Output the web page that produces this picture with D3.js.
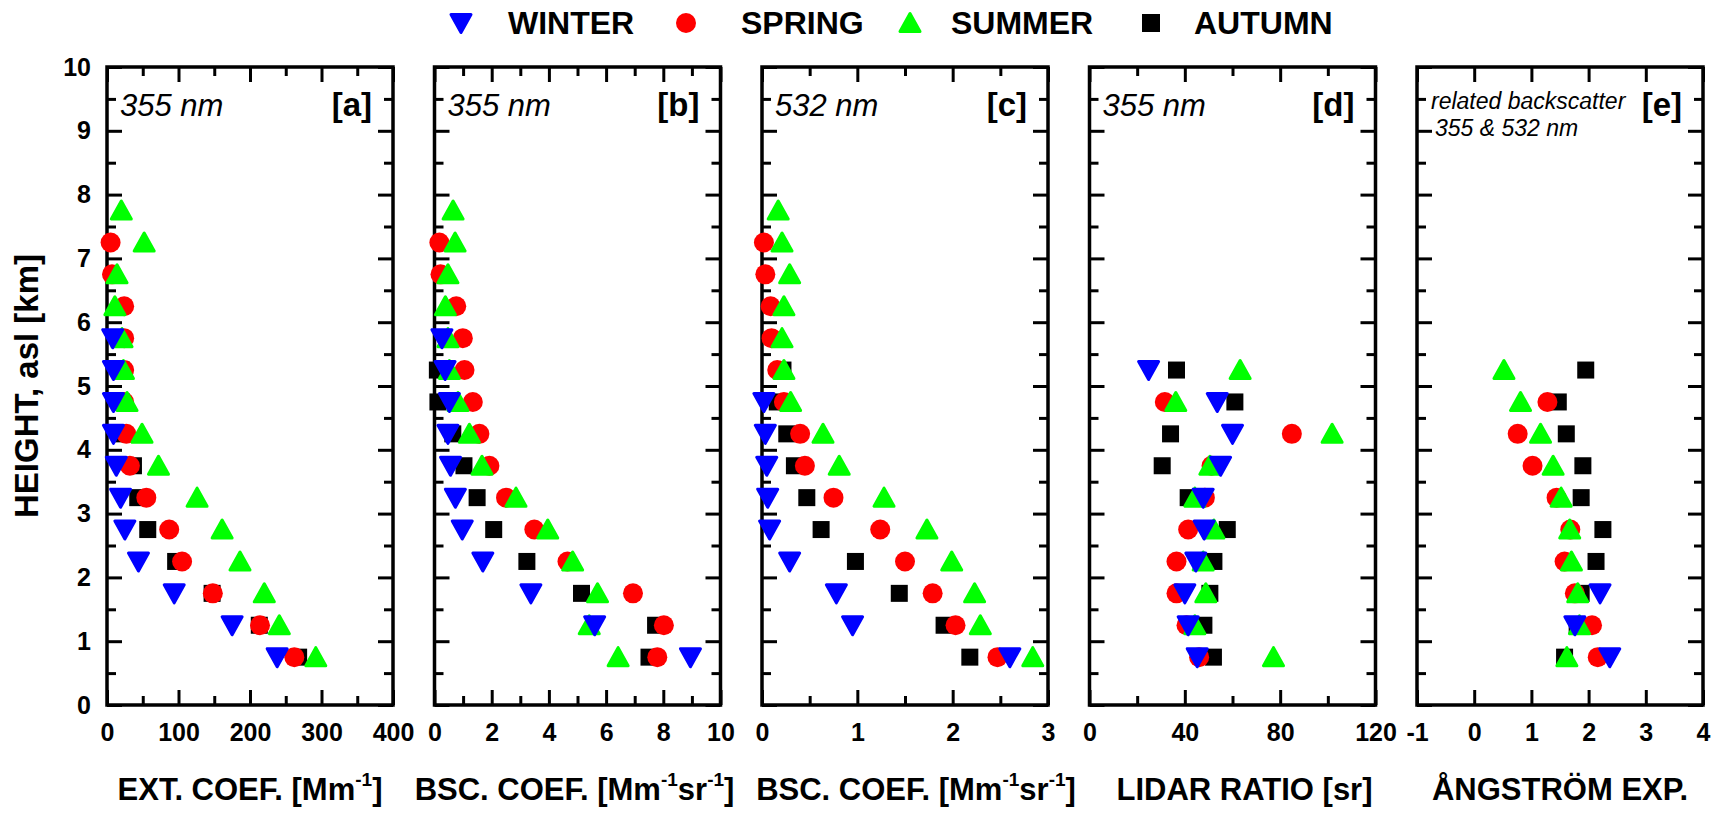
<!DOCTYPE html>
<html>
<head>
<meta charset="utf-8">
<script src="https://cdn.jsdelivr.net/npm/d3@7/dist/d3.min.js"></script>
<style>
  html, body { margin: 0; padding: 0; background: #fff; }
  svg { display: block; }
  text { font-family: "Liberation Sans", Arial, Helvetica, sans-serif; fill: #000; }
</style>
</head>
<body>
<svg id="chart" width="1721" height="815"></svg>
<script>
// Layer mid-heights (km asl)
const heights = [0.75, 1.25, 1.75, 2.25, 2.75, 3.25, 3.75, 4.25, 4.75, 5.25, 5.75, 6.25, 6.75, 7.25, 7.75];

// [a] extinction coefficient at 355 nm (Mm^-1)
const extWinter = [238, 175, 94, 44, 25, 19, 13, 9, 9, 9, 8, null, null, null, null];
const extSpring = [262, 214, 148, 105, 87, 55, 32, 27, 24, 24, 24, 24, 7, 5, null];
const extSummer = [292, 241, 220, 186, 161, 126, 72, 49, 28, 23, 21, 11, 14, 52, 20];
const extAutumn = [268, 213, 147, 96, 57, 43, 37, 20, 20, 20, null, null, null, null, null];

// [b] backscatter coefficient at 355 nm (Mm^-1 sr^-1)
const bsc355Winter = [8.95, 5.6, 3.37, 1.69, 0.97, 0.73, 0.56, 0.47, 0.52, 0.37, 0.26, null, null, null, null];
const bsc355Spring = [7.79, 8.02, 6.94, 4.65, 3.49, 2.5, 1.92, 1.57, 1.34, 1.05, 0.99, 0.76, 0.21, 0.17, null];
const bsc355Summer = [6.42, 5.41, 5.7, 4.83, 3.96, 2.85, 1.66, 1.22, 0.82, 0.52, 0.47, 0.38, 0.47, 0.72, 0.65];
const bsc355Autumn = [7.5, 7.73, 5.14, 3.23, 2.07, 1.49, 1.03, 0.64, 0.12, 0.1, null, null, null, null, null];

// [c] backscatter coefficient at 532 nm (Mm^-1 sr^-1)
const bsc532Winter = [2.6, 0.95, 0.78, 0.29, 0.08, 0.06, 0.05, 0.035, 0.02, null, null, null, null, null, null];
const bsc532Spring = [2.47, 2.03, 1.79, 1.5, 1.24, 0.75, 0.45, 0.4, 0.23, 0.16, 0.1, 0.09, 0.035, 0.02, null];
const bsc532Summer = [2.84, 2.29, 2.23, 1.99, 1.73, 1.28, 0.81, 0.64, 0.3, 0.23, 0.21, 0.23, 0.29, 0.21, 0.17];
const bsc532Autumn = [2.18, 1.91, 1.44, 0.98, 0.62, 0.47, 0.34, 0.26, 0.16, 0.22, null, null, null, null, null];

// [d] lidar ratio at 355 nm (sr)
const lrWinter = [45.2, 41.4, 40, 44.6, 48.1, 47.7, 55, 60, 53.6, 24.8, null, null, null, null, null];
const lrSpring = [46, 40.7, 36.5, 36.5, 41.4, 48.4, 51.2, 84.9, 31.6, null, null, null, null, null, null];
const lrSummer = [77.2, 44.2, 48.8, 47.7, 52.2, 44.2, 50.5, 101.8, 36.2, 63.2, null, null, null, null, null];
const lrAutumn = [52, 48, 50.5, 52.2, 57.8, 41.4, 30.5, 34, 61, 36.5, null, null, null, null, null];

// [e] backscatter-related Angstrom exponent 355/532 nm
const aeWinter = [2.37, 1.76, 2.2, null, null, null, null, null, null, null, null, null, null, null, null];
const aeSpring = [2.16, 2.06, 1.76, 1.58, 1.68, 1.44, 1.02, 0.76, 1.28, null, null, null, null, null, null];
const aeSummer = [1.62, 1.84, 1.81, 1.7, 1.67, 1.52, 1.38, 1.16, 0.81, 0.52, null, null, null, null, null];
const aeAutumn = [1.58, 1.8, 1.87, 2.13, 2.25, 1.87, 1.9, 1.61, 1.47, 1.95, null, null, null, null, null];

// Axis tick values
const heightTicks = [0, 1, 2, 3, 4, 5, 6, 7, 8, 9, 10];
const heightMinorTicks = [0.5, 1.5, 2.5, 3.5, 4.5, 5.5, 6.5, 7.5, 8.5, 9.5];
const extTicks = [0, 100, 200, 300, 400];
const extMinorTicks = [50, 150, 250, 350];
const bsc355Ticks = [0, 2, 4, 6, 8, 10];
const bsc355MinorTicks = [1, 3, 5, 7, 9];
const bsc532Ticks = [0, 1, 2, 3];
const bsc532MinorTicks = [0.5, 1.5, 2.5];
const lrTicks = [0, 40, 80, 120];
const lrMinorTicks = [20, 60, 100];
const aeTicks = [-1, 0, 1, 2, 3, 4];
const aeMinorTicks = [];

const seasonNames = ["WINTER", "SPRING", "SUMMER", "AUTUMN"];
const seasonColors = ["#0000ff", "#ff0000", "#00ff00", "#000000"];
const seasonShapes = ["down", "circle", "up", "square"];

const svg = d3.select("#chart");
const fontFam = '"Liberation Sans", Arial, Helvetica, sans-serif';
// plain hyphen for negative tick labels
const tickFmt = d => String(d);

const plotTop = 67, plotBottom = 705;
const panelWidth = 286, panelStep = 327.5, firstLeft = 107;
const y = d3.scaleLinear().domain([0, 10]).range([plotBottom, plotTop]);

const panels = [
  { key: "a", domain: [0, 400], ticks: extTicks, minor: extMinorTicks, wl: "355 nm", titleShift: 0,
    series: [extWinter, extSpring, extSummer, extAutumn],
    title: [["EXT. COEF. [Mm", false], ["-1", true], ["]", false]] },
  { key: "b", domain: [0, 10], ticks: bsc355Ticks, minor: bsc355MinorTicks, wl: "355 nm", titleShift: -3,
    series: [bsc355Winter, bsc355Spring, bsc355Summer, bsc355Autumn],
    title: [["BSC. COEF. [Mm", false], ["-1", true], ["sr", false], ["-1", true], ["]", false]] },
  { key: "c", domain: [0, 3], ticks: bsc532Ticks, minor: bsc532MinorTicks, wl: "532 nm", titleShift: 11,
    series: [bsc532Winter, bsc532Spring, bsc532Summer, bsc532Autumn],
    title: [["BSC. COEF. [Mm", false], ["-1", true], ["sr", false], ["-1", true], ["]", false]] },
  { key: "d", domain: [0, 120], ticks: lrTicks, minor: lrMinorTicks, wl: "355 nm", titleShift: 12,
    series: [lrWinter, lrSpring, lrSummer, lrAutumn],
    title: [["LIDAR RATIO [sr]", false]] },
  { key: "e", domain: [-1, 4], ticks: aeTicks, minor: aeMinorTicks, wl: null, titleShift: 0,
    series: [aeWinter, aeSpring, aeSummer, aeAutumn],
    title: [["ÅNGSTRÖM EXP.", false]] }
];

// Marker symbols
function markerPath(shape) {
  if (shape === "down") return "M-10,-8.5L10,-8.5L0,9.5Z";
  if (shape === "up") return "M-10,8.5L10,8.5L0,-9.5Z";
  return null;
}
function drawMarker(g, shape, color, cx, cy) {
  if (shape === "circle") {
    g.append("circle").attr("cx", cx).attr("cy", cy).attr("r", 10).attr("fill", color);
  } else if (shape === "square") {
    g.append("rect").attr("x", cx - 8.5).attr("y", cy - 8.5).attr("width", 17).attr("height", 17).attr("fill", color);
  } else {
    g.append("path").attr("d", markerPath(shape))
      .attr("transform", `translate(${cx},${cy})`)
      .attr("fill", color).attr("stroke", color)
      .attr("stroke-width", 3).attr("stroke-linejoin", "round");
  }
}

function styleAxis(sel) {
  sel.select(".domain").remove();
  sel.selectAll(".tick line").attr("stroke", "#000").attr("stroke-width", 3);
  sel.selectAll("text").attr("font-family", fontFam).attr("font-weight", "bold")
    .attr("font-size", 25).attr("fill", "#000");
}

panels.forEach((p, i) => {
  const left = firstLeft + i * panelStep;
  const right = left + panelWidth;
  const x = d3.scaleLinear().domain(p.domain).range([left, right]);
  const g = svg.append("g");

  // Bottom axis (inward ticks, labels below)
  g.append("g").attr("transform", `translate(0,${plotBottom})`)
    .call(d3.axisBottom(x).tickValues(p.ticks).tickSize(-15).tickPadding(18).tickFormat(tickFmt))
    .call(styleAxis);
  if (p.minor.length)
    g.append("g").attr("transform", `translate(0,${plotBottom})`)
      .call(d3.axisBottom(x).tickValues(p.minor).tickSize(-9).tickFormat(""))
      .call(styleAxis);
  // Top axis
  g.append("g").attr("transform", `translate(0,${plotTop})`)
    .call(d3.axisTop(x).tickValues(p.ticks).tickSize(-15).tickFormat(""))
    .call(styleAxis);
  if (p.minor.length)
    g.append("g").attr("transform", `translate(0,${plotTop})`)
      .call(d3.axisTop(x).tickValues(p.minor).tickSize(-9).tickFormat(""))
      .call(styleAxis);

  // Left axis (labels only on the first panel)
  const leftAxis = d3.axisLeft(y).tickValues(heightTicks).tickSize(-15).tickPadding(16)
    .tickFormat(i === 0 ? tickFmt : "");
  g.append("g").attr("transform", `translate(${left},0)`).call(leftAxis).call(styleAxis);
  g.append("g").attr("transform", `translate(${left},0)`)
    .call(d3.axisLeft(y).tickValues(heightMinorTicks).tickSize(-9).tickFormat("")).call(styleAxis);
  // Right axis
  g.append("g").attr("transform", `translate(${right},0)`)
    .call(d3.axisRight(y).tickValues(heightTicks).tickSize(-15).tickFormat("")).call(styleAxis);
  g.append("g").attr("transform", `translate(${right},0)`)
    .call(d3.axisRight(y).tickValues(heightMinorTicks).tickSize(-9).tickFormat("")).call(styleAxis);

  // Frame
  g.append("rect").attr("x", left).attr("y", plotTop)
    .attr("width", panelWidth).attr("height", plotBottom - plotTop)
    .attr("fill", "none").attr("stroke", "#000").attr("stroke-width", 3.5);

  // Data markers: autumn first, winter on top
  const marks = g.append("g");
  [3, 1, 2, 0].forEach(s => {
    p.series[s].forEach((v, k) => {
      if (v === null) return;
      drawMarker(marks, seasonShapes[s], seasonColors[s], x(v), y(heights[k]));
    });
  });

  // In-panel annotations
  if (p.wl) {
    g.append("text").attr("x", left + 13).attr("y", 116)
      .attr("font-size", 31).attr("font-style", "italic").text(p.wl);
  } else {
    g.append("text").attr("x", left + 14).attr("y", 109)
      .attr("font-size", 23).attr("font-style", "italic").text("related backscatter");
    g.append("text").attr("x", left + 18).attr("y", 136)
      .attr("font-size", 23).attr("font-style", "italic").text("355 & 532 nm");
  }
  g.append("text").attr("x", right - 21).attr("y", 116).attr("text-anchor", "end")
    .attr("font-size", 33).attr("font-weight", "bold").text(`[${p.key}]`);

  // Axis title with superscripts
  const t = g.append("text").attr("x", left + panelWidth / 2 + p.titleShift).attr("y", 800)
    .attr("text-anchor", "middle").attr("font-size", 31).attr("font-weight", "bold");
  let raised = false;
  p.title.forEach(([s, sup]) => {
    let dy = 0;
    if (sup && !raised) { dy = -14; raised = true; }
    else if (!sup && raised) { dy = 14; raised = false; }
    const ts = t.append("tspan").attr("dy", dy).text(s);
    if (sup) ts.attr("font-size", 19);
  });
});

// Y axis title
svg.append("text").attr("transform", "translate(38,386) rotate(-90)")
  .attr("text-anchor", "middle").attr("font-size", 33).attr("font-weight", "bold")
  .text("HEIGHT, asl [km]");

// Legend
const legendMarkerX = [461, 686, 910, 1151];
const legendTextX = [508, 741, 951, 1194];
seasonNames.forEach((name, s) => {
  const lg = svg.append("g");
  if (seasonShapes[s] === "square") {
    lg.append("rect").attr("x", legendMarkerX[s] - 9).attr("y", 23 - 9)
      .attr("width", 18).attr("height", 18).attr("fill", seasonColors[s]);
  } else {
    drawMarker(lg, seasonShapes[s], seasonColors[s], legendMarkerX[s], 23);
  }
  lg.append("text").attr("x", legendTextX[s]).attr("y", 34)
    .attr("font-size", 32).attr("font-weight", "bold").text(name);
});
</script>
</body>
</html>
